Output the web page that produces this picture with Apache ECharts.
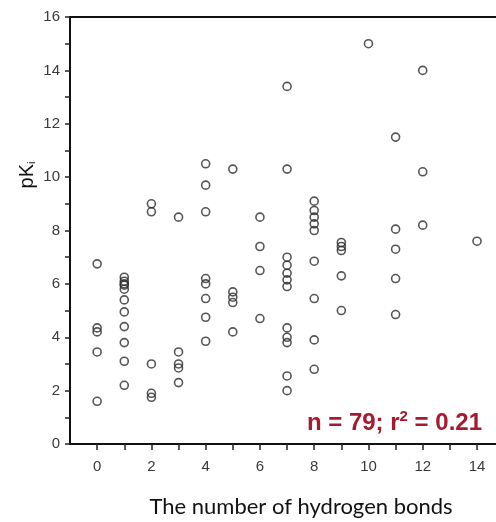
<!DOCTYPE html>
<html>
<head>
<meta charset="utf-8">
<script src="https://cdn.jsdelivr.net/npm/echarts@6/dist/echarts.min.js"></script>
<style>
    html, body { margin: 0; padding: 0; background: #fff; }
    #chart { width: 496px; height: 522px; }
</style>
</head>
<body>
<div id="chart"></div>
<script>
// number of hydrogen bonds (x) and the pKi values read for each column
const hBondCounts = [0, 1, 2, 3, 4, 5, 6, 7, 8, 9, 10, 11, 12, 14];
const pKiByCount = [
    [6.75, 4.35, 4.2, 3.45, 1.6],
    [6.25, 6.1, 6.0, 5.95, 5.8, 5.4, 4.95, 4.4, 3.8, 3.1, 2.2],
    [9.0, 8.7, 3.0, 1.9, 1.75],
    [8.5, 3.45, 3.0, 2.85, 2.3],
    [10.5, 9.7, 8.7, 6.2, 6.0, 5.45, 4.75, 3.85],
    [10.3, 5.7, 5.5, 5.3, 4.2],
    [8.5, 7.4, 6.5, 4.7],
    [13.4, 10.3, 7.0, 6.7, 6.4, 6.15, 5.9, 4.35, 4.0, 3.8, 2.55, 2.0],
    [9.1, 8.75, 8.5, 8.25, 8.0, 6.85, 5.45, 3.9, 2.8],
    [7.55, 7.4, 7.25, 6.3, 5.0],
    [15.0],
    [11.5, 8.05, 7.3, 6.2, 4.85],
    [14.0, 10.2, 8.2],
    [7.6]
];
const xTicks = [0, 1, 2, 3, 4, 5, 6, 7, 8, 9, 10, 11, 12, 13, 14];
const xLabels = [0, 2, 4, 6, 8, 10, 12, 14];
const yTicks = [0, 1, 2, 3, 4, 5, 6, 7, 8, 9, 10, 11, 12, 13, 14, 15, 16];
const yLabels = [0, 2, 4, 6, 8, 10, 12, 14, 16];

let points = [];
hBondCounts.forEach(function (n, i) {
    pKiByCount[i].forEach(function (v) {
        points.push([n, v]);
    });
});

let myChart = echarts.init(document.getElementById('chart'));

const tickLabel = {
    color: '#3a3a3a',
    fontSize: 15,
    fontFamily: 'Liberation Sans'
};

myChart.setOption({
    animation: false,
    grid: {left: 70, right: 0, top: 17, bottom: 78},
    xAxis: [{
        type: 'value',
        min: -1,
        max: 14.7,
        interval: 1,
        splitLine: {show: false},
        axisLine: {onZero: false, lineStyle: {color: '#111', width: 2}},
        axisTick: {
            length: 6,
            customValues: xTicks,
            lineStyle: {color: '#222', width: 1.5}
        },
        axisLabel: Object.assign({margin: 15, customValues: xLabels}, tickLabel)
    }, {
        // top border of the box
        type: 'value',
        position: 'top',
        min: -1,
        max: 14.7,
        axisLine: {show: true, onZero: false, lineStyle: {color: '#111', width: 2}},
        axisTick: {show: false},
        axisLabel: {show: false},
        splitLine: {show: false}
    }],
    yAxis: {
        type: 'value',
        min: 0,
        max: 16,
        interval: 1,
        splitLine: {show: false},
        axisLine: {show: true, onZero: false, lineStyle: {color: '#111', width: 2}},
        axisTick: {
            show: true,
            length: 5,
            customValues: yTicks,
            lineStyle: {color: '#222', width: 1.5}
        },
        axisLabel: Object.assign({margin: 10, customValues: yLabels}, tickLabel)
    },
    series: [{
        type: 'scatter',
        data: points,
        symbol: 'circle',
        symbolSize: 8,
        itemStyle: {
            color: 'rgba(0,0,0,0)',
            borderColor: '#2a2a2a',
            borderWidth: 1.6
        }
    }],
    graphic: [{
        type: 'text',
        x: 27,
        y: 175,
        rotation: Math.PI / 2,
        style: {
            text: 'pK{sub|i}',
            fill: '#111',
            font: '20px "Liberation Sans"',
            align: 'center',
            verticalAlign: 'middle',
            rich: {
                sub: {fontSize: 11, verticalAlign: 'bottom', padding: [10, 0, 0, 0], fill: '#111'}
            }
        }
    }, {
        type: 'text',
        x: 301,
        y: 507,
        style: {
            text: 'The number of hydrogen bonds',
            fill: '#111',
            font: '22px Lato',
            align: 'center',
            verticalAlign: 'middle'
        }
    }, {
        type: 'text',
        x: 482,
        y: 423,
        style: {
            text: 'n = 79; r{sup|2} = 0.21',
            fill: '#a6192e',
            font: 'bold 24px "Liberation Sans"',
            align: 'right',
            verticalAlign: 'middle',
            rich: {
                sup: {fontSize: 15, fontWeight: 'bold', verticalAlign: 'top', padding: [0, 0, 12, 0], fill: '#a6192e'}
            }
        }
    }]
});
</script>
</body>
</html>
